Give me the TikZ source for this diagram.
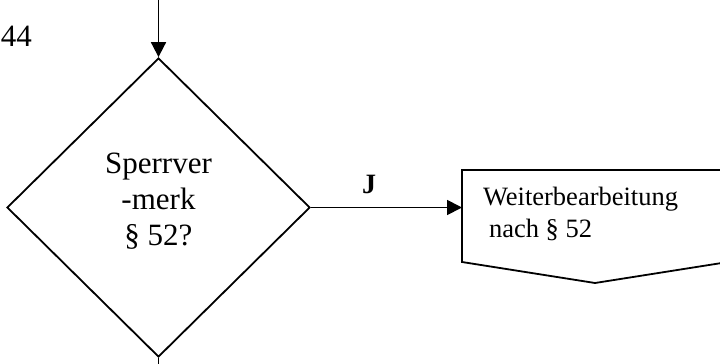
\documentclass[tikz,border=0pt]{standalone}
\usepackage{fontspec}
\setmainfont{Liberation Serif}
\usetikzlibrary{shapes.geometric,arrows.meta,calc}
\tikzset{
  flow/.style={line width=1.8pt},
  arr/.style={flow,-{Triangle[length=15pt,width=15pt]}},
  txt/.style={inner sep=0pt,outer sep=0pt}
}
\begin{document}
\begin{tikzpicture}[x=1pt,y=-1pt]
\useasboundingbox (0,0) rectangle (720,364);
% diamond
\node[diamond,draw,flow,minimum width=303pt,minimum height=299pt,inner sep=0pt] (dia) at (158.5,207.5) {};
\node[txt,align=center,font=\fontsize{31}{36}\selectfont,anchor=base] (diatxt) at (158.5,245) {Sperrver\\-merk\\§ 52?};
% top incoming arrow
\coordinate (topin) at (158.5,0);
\draw[arr] (topin) -- (dia.north);
% bottom outgoing
\coordinate (botout) at (158.5,364);
\draw[flow] (dia.south) -- (botout);
% page label
\node[txt,font=\fontsize{31}{35}\selectfont,anchor=base west] (num) at (1,46) {44};
% box shape
\node[txt,minimum width=266pt,minimum height=92pt,anchor=north west] (box) at (462,170) {};
\draw[flow] (box.north west) -- (box.north east) -- (box.south east) -- ($(box.south)+(0,21)$) -- (box.south west) -- cycle;
\node[txt,align=left,font=\fontsize{26.5}{32}\selectfont,anchor=base west] (boxtxt) at (483,237) {Weiterbearbeitung\\\hspace*{6pt}nach § 52};
% yes branch
\draw[arr] (dia.east) -- (dia.east -| box.west);
\node[txt,font=\fontsize{28}{30}\selectfont\bfseries,anchor=base] (j) at (369,193) {J};
\end{tikzpicture}
\end{document}
